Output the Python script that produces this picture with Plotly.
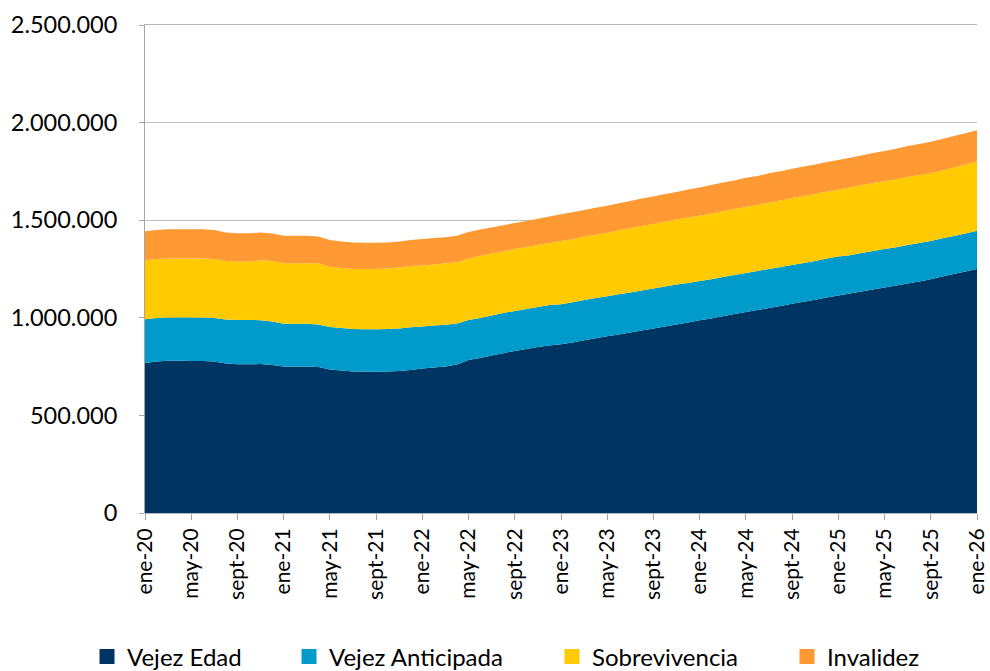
import plotly.graph_objects as go

mes = ["ene", "feb", "mar", "abr", "may", "jun", "jul", "ago", "sept", "oct", "nov", "dic"]
months = [f"{mes[m]}-{y}" for y in range(20, 26) for m in range(12)] + ["ene-26"]

vejez_edad = [768, 776, 780, 780, 779, 779, 776, 766, 762, 762, 763, 758,
              750, 750, 750, 748, 735, 730, 725, 724, 724, 725, 727, 733,
              740, 745, 751, 761, 784, 794, 807, 819, 830, 840, 850, 858,
              864, 874, 885, 895, 905, 915, 925, 935, 945, 955, 966, 976,
              987, 997, 1008, 1019, 1030, 1040, 1050, 1060, 1072, 1082, 1093, 1104,
              1114, 1124, 1135, 1145, 1155, 1165, 1176, 1186, 1197, 1212, 1224, 1237,
              1250]
vejez_anticipada = [225, 223, 222, 222, 223, 223, 223, 225, 227, 227, 225, 223,
                    219, 219, 219, 218, 218, 218, 218, 217, 217, 218, 218, 218,
                    215, 215, 213, 210, 205, 205, 205, 205, 205, 205, 205, 207,
                    206, 206, 206, 206, 206, 206, 205, 205, 205, 205, 205, 202,
                    201, 201, 201, 200, 200, 200, 200, 200, 199, 199, 198, 200,
                    200, 197, 197, 197, 197, 197, 197, 197, 196, 195, 195, 195,
                    196]
sobrevivencia = [302, 302, 302, 302, 302, 302, 302, 300, 299, 299, 307, 310,
                 311, 311, 311, 313, 307, 307, 307, 309, 309, 310, 313, 315,
                 313, 313, 315, 313, 315, 318, 317, 316, 318, 318, 318, 318,
                 323, 323, 325, 325, 325, 328, 330, 330, 330, 333, 333, 336,
                 335, 336, 337, 338, 338, 338, 341, 341, 343, 343, 343, 343,
                 343, 347, 348, 348, 348, 348, 348, 348, 347, 348, 351, 353,
                 353]
invalidez = [149, 149, 149, 149, 149, 149, 149, 146, 145, 145, 142, 141,
             140, 140, 140, 138, 138, 136, 136, 135, 135, 133, 133, 133,
             136, 136, 134, 136, 136, 135, 134, 134, 133, 133, 134, 136,
             137, 138, 136, 138, 138, 138, 138, 141, 141, 141, 141, 143,
             145, 146, 147, 146, 149, 149, 149, 150, 149, 151, 151, 151,
             151, 152, 151, 154, 154, 156, 159, 159, 162, 161, 161, 161,
             162]

series = [
    ("Vejez Edad", vejez_edad, "#003462", "legend"),
    ("Vejez Anticipada", vejez_anticipada, "#009BCB", "legend2"),
    ("Sobrevivencia", sobrevivencia, "#FFCA00", "legend3"),
    ("Invalidez", invalidez, "#FF9933", "legend4"),
]

y_ticks = [0, 500000, 1000000, 1500000, 2000000, 2500000]
y_ticktext = ["0", "500.000", "1.000.000", "1.500.000", "2.000.000", "2.500.000"]
x_ticks = months[::4]

FONT = "Lato"
fig = go.Figure()
for name, vals, color, lg in series:
    fig.add_trace(go.Scatter(
        x=months, y=[v * 1000 for v in vals], name=name,
        mode="none", stackgroup="one", fillcolor=color,
        line=dict(width=0), showlegend=False, hoverinfo="skip",
    ))
# legend-only square markers
for name, vals, color, lg in series:
    fig.add_trace(go.Scatter(
        x=[None], y=[None], name=name, mode="markers",
        marker=dict(symbol="square", size=15, color=color),
        legend=lg, showlegend=True, hoverinfo="skip",
    ))

L, R, T, B = 145, 13, 25, 158
W, H = 990, 671
pw = W - L - R
ph = H - T - B

def lx(square_center_px):
    return (square_center_px - 20 - L) / pw

ly = -(657 - (H - B)) / ph
legend_common = dict(orientation="h", yanchor="middle", y=ly, xanchor="left",
                     font=dict(family=FONT, size=24, color="#000000"),
                     bgcolor="rgba(0,0,0,0)")

fig.update_layout(
    width=W, height=H,
    margin=dict(l=L, r=R, t=T, b=B, autoexpand=False),
    paper_bgcolor="white", plot_bgcolor="white",
    font=dict(family=FONT, size=21, color="#000000"),
    hovermode=False,
    legend=dict(x=lx(107), **legend_common),
    legend2=dict(x=lx(309), **legend_common),
    legend3=dict(x=lx(572), **legend_common),
    legend4=dict(x=lx(807), **legend_common),
    xaxis=dict(
        type="category", range=[0, 72],
        tickmode="array", tickvals=x_ticks, ticktext=x_ticks,
        tickangle=-90, ticks="outside", ticklen=6, tickcolor="#a6a6a6",
        showline=True, mirror=True, linecolor="#b5b5b5", linewidth=1,
        showgrid=False, zeroline=False,
        tickfont=dict(family=FONT, size=21, color="#000000"),
    ),
    yaxis=dict(
        range=[0, 2500000],
        tickmode="array", tickvals=y_ticks, ticktext=y_ticktext,
        ticks="outside", ticklen=5, tickcolor="#a6a6a6",
        showline=True, linecolor="#a6a6a6", linewidth=1,
        showgrid=True, gridcolor="#bfbfbf", gridwidth=1,
        zeroline=False,
        tickfont=dict(family=FONT, size=23.5, color="#000000"),
        ticklabelstandoff=17,
    ),
)

fig.write_html(
    "out.html",
    config={"displayModeBar": False},
    post_script="document.body.style.margin='0';document.body.style.overflow='hidden';",
)
